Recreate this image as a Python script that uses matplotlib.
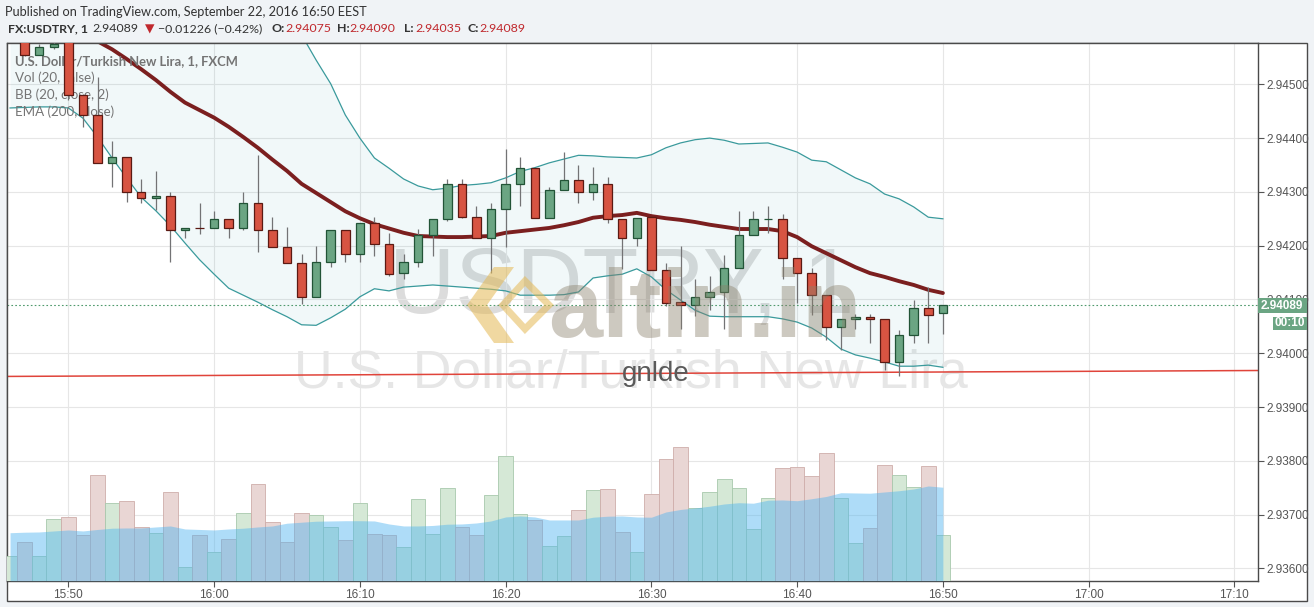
import matplotlib.pyplot as plt
import matplotlib.patches as mpatches
import numpy as np

plt.rcParams['font.family'] = ['Lato', 'DejaVu Sans']

# FX:USDTRY 1-minute bars, 15:47 .. 16:50 (time given as minutes after 15:00)
minutes = np.arange(47, 111)
opens = [2.94586, 2.94554, 2.94569, 2.94590, 2.94480, 2.94443, 2.94353, 2.94364, 2.94299, 2.94288,
         2.94293, 2.94229, 2.94233, 2.94232, 2.94249, 2.94233, 2.94279, 2.94229, 2.94198, 2.94167,
         2.94104, 2.94169, 2.94229, 2.94184, 2.94243, 2.94203, 2.94149, 2.94169, 2.94219, 2.94249,
         2.94314, 2.94254, 2.94214, 2.94268, 2.94314, 2.94344, 2.94252, 2.94304, 2.94323, 2.94299,
         2.94314, 2.94249, 2.94214, 2.94253, 2.94155, 2.94095, 2.94090, 2.94104, 2.94113, 2.94158,
         2.94219, 2.94249, 2.94249, 2.94178, 2.94149, 2.94108, 2.94048, 2.94063, 2.94068, 2.94063,
         2.93983, 2.94034, 2.94084, 2.94075]
highs = [2.94590, 2.94575, 2.94578, 2.94600, 2.94482, 2.94513, 2.94395, 2.94364, 2.94324, 2.94339,
         2.94299, 2.94233, 2.94279, 2.94265, 2.94249, 2.94299, 2.94369, 2.94253, 2.94235, 2.94185,
         2.94199, 2.94229, 2.94229, 2.94243, 2.94253, 2.94224, 2.94184, 2.94231, 2.94249, 2.94324,
         2.94324, 2.94274, 2.94280, 2.94380, 2.94364, 2.94344, 2.94309, 2.94374, 2.94350, 2.94346,
         2.94327, 2.94249, 2.94252, 2.94253, 2.94168, 2.94199, 2.94138, 2.94144, 2.94183, 2.94264,
         2.94264, 2.94274, 2.94258, 2.94178, 2.94158, 2.94108, 2.94063, 2.94073, 2.94073, 2.94063,
         2.94043, 2.94099, 2.94123, 2.94090]
lows = [2.94553, 2.94554, 2.94566, 2.94470, 2.94421, 2.94353, 2.94310, 2.94282, 2.94280, 2.94266,
        2.94170, 2.94215, 2.94222, 2.94232, 2.94215, 2.94230, 2.94189, 2.94198, 2.94167, 2.94092,
        2.94104, 2.94160, 2.94170, 2.94170, 2.94180, 2.94144, 2.94139, 2.94160, 2.94180, 2.94246,
        2.94252, 2.94214, 2.94150, 2.94198, 2.94274, 2.94252, 2.94252, 2.94304, 2.94280, 2.94285,
        2.94243, 2.94156, 2.94200, 2.94155, 2.94088, 2.94046, 2.94069, 2.94080, 2.94045, 2.94158,
        2.94219, 2.94224, 2.94139, 2.94094, 2.94071, 2.94025, 2.94006, 2.94045, 2.94020, 2.93969,
        2.93958, 2.94020, 2.94020, 2.94035]
closes = [2.94554, 2.94569, 2.94575, 2.94480, 2.94443, 2.94353, 2.94364, 2.94299, 2.94288, 2.94293,
          2.94229, 2.94233, 2.94232, 2.94249, 2.94233, 2.94279, 2.94229, 2.94198, 2.94167, 2.94104,
          2.94169, 2.94229, 2.94184, 2.94243, 2.94203, 2.94147, 2.94169, 2.94219, 2.94249, 2.94314,
          2.94254, 2.94214, 2.94268, 2.94314, 2.94344, 2.94252, 2.94304, 2.94323, 2.94299, 2.94314,
          2.94249, 2.94214, 2.94252, 2.94155, 2.94094, 2.94090, 2.94104, 2.94113, 2.94158, 2.94219,
          2.94249, 2.94249, 2.94178, 2.94149, 2.94108, 2.94048, 2.94063, 2.94068, 2.94063, 2.93983,
          2.94034, 2.94084, 2.94072, 2.94089]

# indicators and volume, 15:46 .. 16:50
ind_minutes = np.arange(46, 111)
nan = np.nan
ema200 = [nan, nan, nan, nan, nan,
          2.94595, 2.94580, 2.94565, 2.94547, 2.94528, 2.94508, 2.94486, 2.94466, 2.94452, 2.94438,
          2.94421, 2.94402, 2.94382, 2.94360, 2.94339, 2.94315, 2.94298, 2.94281, 2.94264, 2.94251,
          2.94240, 2.94232, 2.94224, 2.94218, 2.94217, 2.94216, 2.94216, 2.94217, 2.94218, 2.94224,
          2.94227, 2.94230, 2.94233, 2.94238, 2.94244, 2.94252, 2.94255, 2.94257, 2.94261, 2.94255,
          2.94251, 2.94248, 2.94244, 2.94239, 2.94235, 2.94231, 2.94231, 2.94231, 2.94227, 2.94216,
          2.94199, 2.94186, 2.94173, 2.94160, 2.94149, 2.94142, 2.94134, 2.94127, 2.94118, 2.94112]
bb_upper = [nan] * 20 + [
    2.94592, 2.94545, 2.94501, 2.94443, 2.94400, 2.94363, 2.94344, 2.94324, 2.94311, 2.94304,
    2.94307, 2.94312, 2.94314, 2.94317, 2.94326, 2.94338, 2.94345, 2.94354, 2.94361, 2.94368,
    2.94367, 2.94365, 2.94364, 2.94363, 2.94369, 2.94382, 2.94391, 2.94397, 2.94400, 2.94396,
    2.94389, 2.94390, 2.94391, 2.94383, 2.94374, 2.94359, 2.94356, 2.94341, 2.94326, 2.94315,
    2.94296, 2.94287, 2.94272, 2.94253, 2.94250]
bb_lower = [2.94456, 2.94457, 2.94458, 2.94458, 2.94456, 2.94437, 2.94402, 2.94363, 2.94326, 2.94290,
            2.94265, 2.94237, 2.94205, 2.94174, 2.94147, 2.94121, 2.94108, 2.94095, 2.94081, 2.94068,
            2.94053, 2.94052, 2.94066, 2.94082, 2.94105, 2.94120, 2.94116, 2.94123, 2.94125, 2.94127,
            2.94125, 2.94123, 2.94121, 2.94119, 2.94116, 2.94108, 2.94108, 2.94108, 2.94109, 2.94114,
            2.94140, 2.94144, 2.94147, 2.94157, 2.94142, 2.94118, 2.94099, 2.94080, 2.94069, 2.94068,
            2.94068, 2.94068, 2.94068, 2.94064, 2.94058, 2.94047, 2.94030, 2.94008, 2.93997, 2.93991,
            2.93984, 2.93976, 2.93976, 2.93978, 2.93974]
volume = [99, 154, 99, 247, 254, 183, 423, 310, 319, 214,
          190, 354, 54, 183, 114, 167, 271, 386, 234, 154,
          271, 262, 214, 163, 310, 186, 183, 134, 326, 186,
          370, 216, 183, 343, 499, 267, 243, 139, 179, 283,
          363, 367, 195, 114, 347, 487, 535, 292, 354, 406,
          370, 207, 330, 450, 454, 419, 510, 330, 150, 210,
          463, 423, 374, 459, 182]
volume_ma = [192, 194, 195, 199, 203, 199, 205, 210, 211, 211,
             215, 219, 207, 205, 203, 207, 210, 215, 219, 230,
             234, 238, 239, 240, 240, 239, 227, 219, 219, 221,
             226, 227, 231, 239, 255, 259, 255, 243, 243, 243,
             254, 258, 259, 255, 254, 275, 285, 291, 298, 307,
             312, 310, 322, 323, 320, 328, 337, 352, 351, 350,
             355, 360, 367, 379, 374]
first_bar_up = True  # 15:46 bar, candle itself is above the view

# trend line drawn on the chart
trend_t = [45.8, 131.6]
trend_p = [2.93957, 2.93968]

last_price = 2.94089
price_ticks = np.arange(2.936, 2.9455, 0.001)
time_ticks = np.arange(50, 131, 10)
time_labels = ['15:50', '16:00', '16:10', '16:20', '16:30', '16:40', '16:50', '17:00', '17:10']

W, H = 1314, 607


def fx(x):
    return x / W


def fy(y):
    return 1 - y / H


fig = plt.figure(figsize=(W / 100, H / 100), dpi=100, facecolor='#f0f3f6')
fig.add_artist(mpatches.Rectangle((fx(7), fy(600.7)), fx(1307.3) - fx(7), fy(43.3) - fy(600.7),
                                  transform=fig.transFigure, fc='white', ec='#4a4a4a',
                                  lw=1.0, zorder=-1))

rect = [fx(7), fy(580.7), fx(1257.7) - fx(7), fy(43.3) - fy(580.7)]
ax = fig.add_axes(rect)
ax.set_xlim(45.79, 131.6)
ax.set_ylim(2.935773, 2.945762)
ax.set_axisbelow(True)
ax.grid(color='#e6e6e6', lw=0.8)
for s in ax.spines.values():
    s.set_color('#4a4a4a')
    s.set_linewidth(1.0)

ax.yaxis.tick_right()
ax.set_yticks(price_ticks)
ax.set_yticklabels(['%.5f' % p for p in price_ticks])
ax.set_xticks(time_ticks)
ax.set_xticklabels(time_labels)
ax.tick_params(axis='both', direction='out', length=4, color='#555555', labelcolor='#555555',
               labelsize=8.5, labelfontfamily='Liberation Sans')
ax.tick_params(axis='y', pad=2)
ax.tick_params(axis='x', pad=2)

# watermarks behind the series
ax.text(fx(622), fy(313), 'USDTRY, 1', transform=fig.transFigure, ha='center', va='baseline',
        fontsize=66, color='#dcdcdc', family='Liberation Sans', zorder=0.5)
ax.text(fx(631), fy(388), 'U.S. Dollar/Turkish New Lira', transform=fig.transFigure,
        ha='center', va='baseline', fontsize=38.5, color='#e6e6e6', family='Liberation Sans',
        zorder=0.5)

# Bollinger bands + EMA
upper = np.array(bb_upper)
lower = np.array(bb_lower)
ax.fill_between(ind_minutes, lower, np.where(np.isnan(upper), 2.9465, upper),
                color='#198f9a', alpha=0.06, lw=0, zorder=1)
ax.plot(ind_minutes, upper, color='#3a9a9c', lw=0.9, zorder=2)
ax.plot(ind_minutes, lower, color='#3a9a9c', lw=0.9, zorder=2)
ax.plot(ind_minutes, ema200, color='#7b1f1f', lw=2.8, zorder=2.5, solid_capstyle='round')

ax.axhline(last_price, color='#4f9a6d', lw=0.8, ls=(0, (1.5, 2)), zorder=2)
ax.plot(trend_t, trend_p, color='#e0443a', lw=1.1, zorder=2)

# candles
for t, o, h, l, c in zip(minutes, opens, highs, lows, closes):
    up = c >= o
    ax.vlines(t, l, h, color='#737375', lw=0.9, zorder=3)
    ax.add_patch(mpatches.Rectangle((t - 0.29, min(o, c)), 0.58, max(abs(c - o), 1e-7),
                                    fc='#6ba583' if up else '#d75442',
                                    ec='#225437' if up else '#5b1a13', lw=0.9, zorder=4))

# legend block
legend_rows = ['Vol (20, false)', 'BB (20, close, 2)', 'EMA (200, close)']
ax.text(fx(15), fy(61), 'U.S. Dollar/Turkish New Lira, 1, FXCM', transform=fig.transFigure,
        va='center', fontsize=9.4, fontweight='bold', color='#747474', zorder=2.8)
for i, row in enumerate(legend_rows):
    ax.text(fx(15), fy(78 + 17 * i), row, transform=fig.transFigure, va='center',
            fontsize=9.6, color='#747474', zorder=2.8)

# altin.in overlay logo
chev = [(467, 305), (494, 267), (514, 267), (487, 305), (514, 343), (494, 343)]
ax.add_patch(mpatches.Polygon([(fx(x), fy(y)) for x, y in chev], closed=True,
                              transform=fig.transFigure, fc='#e5b955', ec='none', alpha=0.55,
                              zorder=6))
dia = [(503, 305), (525, 281), (549, 305), (525, 329)]
ax.add_patch(mpatches.Polygon([(fx(x), fy(y)) for x, y in dia], closed=True,
                              transform=fig.transFigure, fc='none', ec='#e5b955', lw=5,
                              alpha=0.55, zorder=6))
ax.text(fx(548), fy(337), 'altin.in', transform=fig.transFigure, va='baseline',
        fontsize=70, fontweight='bold', color='#8a7f6a', alpha=0.42,
        family='Liberation Sans', zorder=6)
ax.text(fx(656), fy(381), 'gnlde', transform=fig.transFigure, ha='center', va='baseline',
        fontsize=20, color='#5a5a5a', family='Liberation Sans', zorder=7)

# volume pane overlaid at the bottom
axv = fig.add_axes(rect, sharex=ax)
axv.set_facecolor('none')
axv.axis('off')
axv.set_ylim(0, 2150)
vol_up = [first_bar_up] + [c >= o for o, c in zip(opens, closes)]
axv.bar(ind_minutes, volume, width=1.0,
        color=['#d5e8d6' if u else '#e9d6d4' for u in vol_up],
        edgecolor=['#a8c8ac' if u else '#cfaeaa' for u in vol_up], lw=0.6)
axv.fill_between(ind_minutes, volume_ma, color='#4db3f0', alpha=0.45, lw=0)
ax.set_xlim(45.79, 131.6)

# last price labels on the price scale
fig.add_artist(mpatches.Rectangle((fx(1257.7), fy(313.3)), fx(1306.7) - fx(1257.7),
                                  fy(298.3) - fy(313.3), transform=fig.transFigure,
                                  fc='#6ba583', ec='none', zorder=5))
fig.text(fx(1282), fy(306), '%.5f' % last_price, ha='center', va='center', fontsize=8.5,
         fontweight='bold', color='white', family='Liberation Sans', zorder=6)
fig.add_artist(mpatches.Rectangle((fx(1273), fy(330)), fx(1306.7) - fx(1273), fy(316.7) - fy(330),
                                  transform=fig.transFigure, fc='#6ba583', ec='none', zorder=5))
fig.text(fx(1290), fy(323.5), '00:10', ha='center', va='center', fontsize=8.5,
         fontweight='bold', color='white', family='Liberation Sans', zorder=6)

# header
fig.text(fx(5), fy(12), 'Published on TradingView.com, September 22, 2016 16:50 EEST',
         va='center', fontsize=9.2, color='#333333')
dark, red = '#333333', '#c0282d'
header = [(7.6, 'FX:USDTRY, 1', dark, 'bold'), (92, '2.94089', dark, 'normal'),
          (145, '\u25bc', red, 'normal'), (158, '\u22120.01226 (\u22120.42%)', dark, 'normal'),
          (271, 'O:', dark, 'bold'), (285, '2.94075', red, 'normal'),
          (337, 'H:', dark, 'bold'), (349, '2.94090', red, 'normal'),
          (404, 'L:', dark, 'bold'), (415, '2.94035', red, 'normal'),
          (468, 'C:', dark, 'bold'), (479, '2.94089', red, 'normal')]
for x, s, col, wt in header:
    fig.text(fx(x), fy(29), s, va='center', fontsize=8.9, color=col, fontweight=wt)

fig.savefig('out.png', dpi=100, facecolor=fig.get_facecolor())
